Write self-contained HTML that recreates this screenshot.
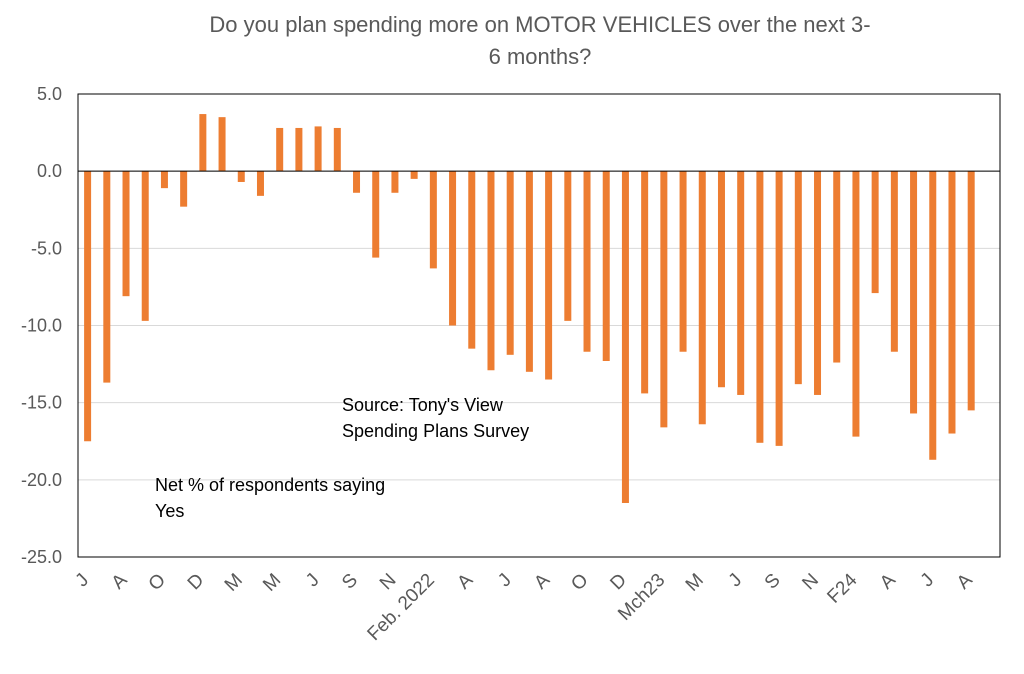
<!DOCTYPE html>
<html><head><meta charset="utf-8"><style>
body{margin:0;background:#fff;width:1024px;height:669px;overflow:hidden;font-family:"Liberation Sans",sans-serif}
</style></head><body>
<svg id="chart" width="1024" height="669" xmlns="http://www.w3.org/2000/svg">
<text x="540" y="32" text-anchor="middle" font-size="22" fill="#595959">Do you plan spending more on MOTOR VEHICLES over the next 3-</text>
<text x="540" y="64" text-anchor="middle" font-size="22" fill="#595959">6 months?</text>
<g id="grid"></g><g id="bars"></g><g id="axes"></g>
<text x="342" y="411" font-size="18" fill="#000">Source: Tony's View</text>
<text x="342" y="437" font-size="18" fill="#000">Spending Plans Survey</text>
<text x="155" y="491" font-size="18" fill="#000">Net % of respondents saying</text>
<text x="155" y="517" font-size="18" fill="#000">Yes</text>
</svg>
<script>
const values=[-17.5,-13.7,-8.1,-9.7,-1.1,-2.3,3.7,3.5,-0.7,-1.6,2.8,2.8,2.9,2.8,-1.4,-5.6,-1.4,-0.5,-6.3,-10.0,-11.5,-12.9,-11.9,-13.0,-13.5,-9.7,-11.7,-12.3,-21.5,-14.4,-16.6,-11.7,-16.4,-14.0,-14.5,-17.6,-17.8,-13.8,-14.5,-12.4,-17.2,-7.9,-11.7,-15.7,-18.7,-17.0,-15.5];
const xLabels=["J","A","O","D","M","M","J","S","N","Feb. 2022","A","J","A","O","D","Mch23","M","J","S","N","F24","A","J","A"];
const yTicks=[5,0,-5,-10,-15,-20,-25];
const NS="http://www.w3.org/2000/svg";
const L=78,R=1000,T=94,B=557,ymax=5,ymin=-25,nCat=48;
const band=(R-L)/nCat;
const y=v=>T+(ymax-v)/(ymax-ymin)*(B-T);
const xc=i=>L+(i+0.5)*band;
function mk(tag,attrs,parent){const e=document.createElementNS(NS,tag);for(const k in attrs)e.setAttribute(k,attrs[k]);document.getElementById(parent).appendChild(e);return e;}
yTicks.forEach(t=>{
 const g=mk('line',{x1:L,x2:R,y1:y(t),y2:y(t),stroke:'#d9d9d9','stroke-width':1},'grid');
 
 
 const tx=mk('text',{x:L-16,y:y(t)+6,'text-anchor':'end','font-size':18,fill:'#595959'},'axes');
 tx.textContent=t.toFixed(1);
 
 
});
values.forEach((v,i)=>{
 const r=mk('rect',{x:xc(i)-3.5,width:7,y:Math.min(y(v),y(0)),height:Math.abs(y(v)-y(0)),fill:'#ed7d31'},'bars');
 
 
});
const z=mk('line',{x1:L,x2:R,y1:y(0),y2:y(0),stroke:'#000','stroke-width':1},'axes');


const fr=mk('rect',{x:L,y:T,width:R-L,height:B-T,fill:'none',stroke:'#000','stroke-width':1},'axes');


xLabels.forEach((lab,k)=>{
 const cx=xc(k*2)+2, cy=B+24;
 const t=mk('text',{x:cx,y:cy,'text-anchor':'end','font-size':19,fill:'#595959',transform:`rotate(-45 ${cx} ${cy})`},'axes');
 t.textContent=lab;
 
 
});
</script>
</body></html>
